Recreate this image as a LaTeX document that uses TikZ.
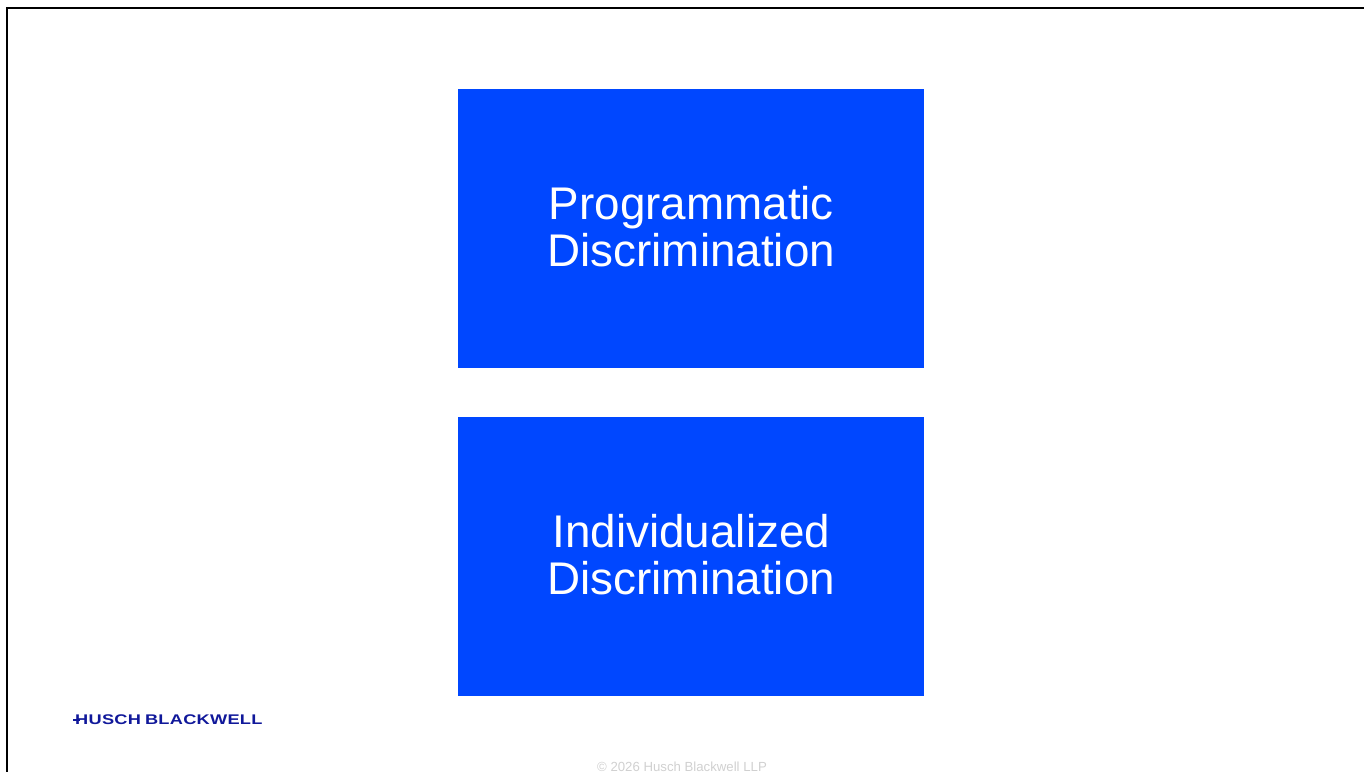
\documentclass[tikz,border=0pt]{standalone}
\usepackage{fontspec}
\setmainfont{Liberation Sans}
\newfontfamily\logofont[FakeStretch=1.3,LetterSpace=2]{Liberation Sans Bold}
\definecolor{boxblue}{HTML}{0047FF}
\definecolor{logoblue}{HTML}{10189A}
\definecolor{footgray}{HTML}{D0D0D0}
\tikzset{
  x=1pt,y=-1pt,
  panel/.style={fill=boxblue,draw=none,inner sep=0pt,minimum width=466pt,minimum height=279pt,anchor=north west},
  paneltext/.style={text=white,font=\fontsize{45.8}{47}\selectfont,align=center,inner sep=0pt},
  frameline/.style={draw=black,line width=2pt},
}
\begin{document}
\begin{tikzpicture}
\useasboundingbox (0,0) rectangle (1364,772);
\draw[frameline] (1364,8) -- (7,8) -- (7,772);
\node[panel] (top) at (458,89) {};
\node[panel] (bottom) at (458,417) {};
\node[paneltext] (toptext) at (691.3,227) {Programmatic\\Discrimination};
\node[paneltext] (bottomtext) at (691.3,555) {Individualized\\Discrimination};
\node[anchor=base west,inner sep=0pt,text=logoblue,font=\logofont\fontsize{14}{15}\selectfont] (logo) at (75,724.5) {HUSCH\hspace{4pt}BLACKWELL};
\draw[logoblue,line width=1.4pt] (73,720) -- (80,720);
\node[anchor=base,inner sep=0pt,text=footgray,font=\fontsize{13.2}{14}\selectfont] (foot) at (682,771) {© 2026 Husch Blackwell LLP};
\end{tikzpicture}
\end{document}
